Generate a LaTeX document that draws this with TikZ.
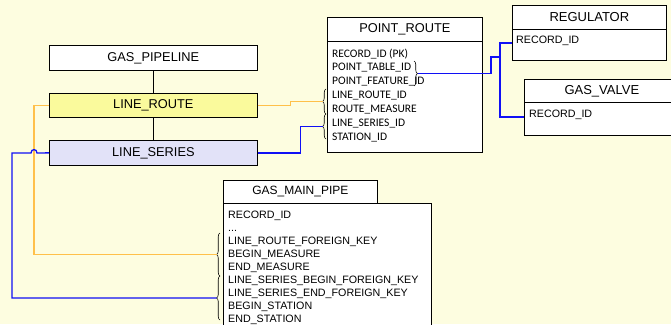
\documentclass[tikz,border=0pt]{standalone}
\usepackage{fontspec}
\setmainfont{Liberation Sans}
\newfontfamily\fieldfont{Carlito}
\usetikzlibrary{decorations.pathreplacing,shadows}
\definecolor{paper}{HTML}{FDFDE0}
\definecolor{routefill}{HTML}{FAFA9C}
\definecolor{seriesfill}{HTML}{E2E2F8}
\definecolor{routeline}{HTML}{FFC04A}
\definecolor{seriesline}{HTML}{1010F5}
\newcommand\elidedfields{.\kern0pt.\kern0pt.}
\begin{document}
\begin{tikzpicture}[x=1pt,y=-1pt,
  box/.style={draw=black, line width=0.7pt, rectangle, inner sep=0pt, anchor=north west,
    general shadow={fill=black!45, shadow xshift=1.1pt, shadow yshift=-1.1pt}},
  hdr/.style={box, fill=white, font=\fontsize{12.8}{14}\selectfont},
  tbody/.style={box, fill=white},
  field/.style={anchor=base west, inner sep=0pt, font=\fontsize{10.7}{12}\selectfont},
  prfield/.style={anchor=base west, inner sep=0pt, font=\fieldfont\fontsize{11.5}{13}\selectfont},
  brc/.style={decorate, decoration={brace, amplitude=3.5pt}, line width=0.6pt},
  routelink/.style={draw=routeline, line width=1.3pt},
  serieslink/.style={draw=seriesline, line width=1.3pt},
  stack/.style={draw=black, line width=0.8pt}]
\useasboundingbox (0,0) rectangle (671,324);
\fill[paper] (0,0) rectangle (671,324);
\clip (0,0) rectangle (671,324);

% pipeline hierarchy
\node[hdr, minimum width=208, minimum height=25] (gp) at (49,45) {GAS\_PIPELINE};
\node[hdr, fill=routefill, minimum width=208, minimum height=24] (lr) at (49,93) {LINE\_ROUTE};
\node[hdr, fill=seriesfill, minimum width=208, minimum height=25] (ls) at (49,140) {LINE\_SERIES};
\draw[stack] (gp.south) -- (lr.north);
\draw[stack] (lr.south) -- (ls.north);

% POINT_ROUTE table
\node[tbody, minimum width=155, minimum height=111] (prB) at (327,41) {};
\node[hdr, minimum width=155, minimum height=24] (prH) at (327,17) {POINT\_ROUTE};
\foreach \t [count=\i from 0] in {RECORD\_ID (PK), POINT\_TABLE\_ID, POINT\_FEATURE\_ID,
    LINE\_ROUTE\_ID, ROUTE\_MEASURE, LINE\_SERIES\_ID, STATION\_ID}
  \node[prfield] (pr\i) at (332,57+13.85*\i) {\t};

% REGULATOR table
\node[tbody, minimum width=154, minimum height=31] (regB) at (512,29) {};
\node[hdr, minimum width=154, minimum height=24, font=\fontsize{13}{15}\selectfont] (reg) at (512,5) {REGULATOR};
\node[field] (regrec) at (516,43) {RECORD\_ID};

% GAS_VALVE table
\node[tbody, minimum width=155, minimum height=33] (gvB) at (524,102) {};
\node[hdr, minimum width=155, minimum height=23, font=\fontsize{13}{15}\selectfont] (gv) at (524,79) {GAS\_VALVE};
\node[field] (gvrec) at (529,117) {RECORD\_ID};

% GAS_MAIN_PIPE table
\node[tbody, minimum width=208, minimum height=140] (gmB) at (223,203) {};
\node[hdr, minimum width=154, minimum height=23, font=\fontsize{12}{14}\selectfont] (gm) at (223,180) {GAS\_MAIN\_PIPE};
\foreach \t [count=\i from 0] in {RECORD\_ID, \elidedfields, LINE\_ROUTE\_FOREIGN\_KEY, BEGIN\_MEASURE,
    END\_MEASURE, LINE\_SERIES\_BEGIN\_FOREIGN\_KEY, LINE\_SERIES\_END\_FOREIGN\_KEY,
    BEGIN\_STATION, END\_STATION}
  \node[field] (gm\i) at (228,218+13*\i) {\t};

% braces grouping key fields
\draw[brc] (326,114) -- (326,89);
\coordinate (prA) at (322.5,101.5);
\draw[brc] (326,139) -- (326,114);
\coordinate (prS) at (322.5,126.5);
\draw[brc] (414,61) -- (414,86);
\coordinate (prP) at (417.5,73.5);
\draw[brc] (220,276) -- (220,233);
\coordinate (gmA) at (216.5,254.5);
\draw[brc] (220,320) -- (220,276);
\coordinate (gmS) at (216.5,298);

% route links
\draw[routelink] (lr.east) -- ++(33,0) |- (prA);
\draw[routelink] (lr.west) -- ++(-15,0) |- (gmA);

% series links
\draw[serieslink] (ls.east) -- ++(43,0) |- (prS);
\draw[serieslink] (ls.west) -- (37,153) .. controls (37,148.5) and (31,148.5) .. (31,153)
  -- (12,153) |- (gmS);

% point feature links
\coordinate (j) at (500,57);
\draw[serieslink] (prP) -- (491,73.5) |- (j);
\draw[serieslink] (j) |- (regB.west |- regrec.base);
\draw[serieslink] (j) |- (gvB.west |- gvrec.base);
\end{tikzpicture}
\end{document}
